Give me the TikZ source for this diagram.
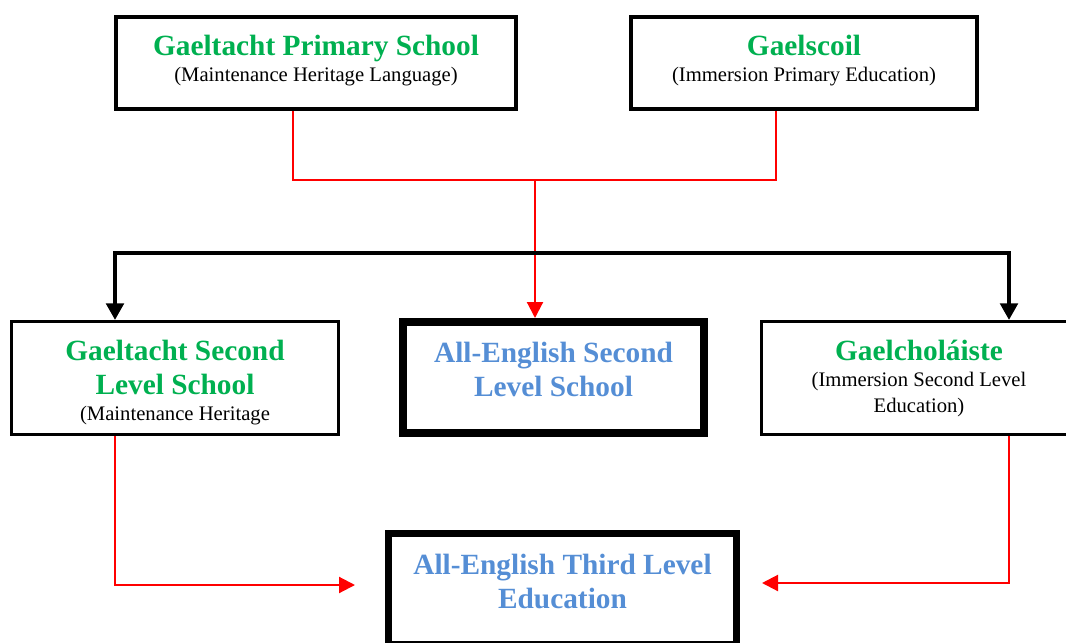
\documentclass[tikz,border=0pt]{standalone}
\usepackage{fontspec}
\setmainfont{Liberation Serif}
\usetikzlibrary{arrows.meta}
\definecolor{ttlgreen}{RGB}{0,176,80}
\definecolor{ttlblue}{RGB}{85,142,213}
\definecolor{linkred}{RGB}{255,0,0}
\newcommand{\boxtext}[3]{\parbox[c][#2][t]{#1}{\centering #3}}
\newcommand{\schooltitle}[3][29pt]{{\fontsize{22}{25.5}\selectfont\bfseries\leavevmode\color{#2}\rule{0pt}{#1}#3\par}}
\newcommand{\schoolnote}[1]{{\fontsize{15.5}{19.5}\selectfont #1\par}}
\tikzset{
  school/.style={draw, rectangle, inner sep=0pt, line width=#1},
  redlink/.style={draw=linkred, line width=1.6pt},
  redarrow/.style={redlink, -{Triangle[width=12pt,length=12pt]}},
  bus/.style={line width=3.5pt, {Triangle[width=13pt,length=12.5pt]}-{Triangle[width=13pt,length=12.5pt]}}
}
\begin{document}
\begin{tikzpicture}[x=0.75pt,y=-0.75pt]
  \useasboundingbox (0,0) rectangle (1066,642);
  \clip (0,0) rectangle (1066,642); %page edge cuts the right and bottom boxes
      %Primary level
  \node[school=3pt] (prim) at (316,63) {\boxtext{300pt}{69pt}{\schooltitle{ttlgreen}{Gaeltacht Primary School}\schoolnote{(Maintenance Heritage Language)}}};
  \node[school=3pt] (gaelscoil) at (804,63) {\boxtext{259.5pt}{69pt}{\schooltitle{ttlgreen}{Gaelscoil}\schoolnote{(Immersion Primary Education)}}};
      %Second level
  \node[school=2.25pt] (gsec) at (175,378) {\boxtext{245.25pt}{84.75pt}{\schooltitle{ttlgreen}{Gaeltacht Second\\Level School}\schoolnote{(Maintenance Heritage}}};
  \node[school=6pt] (eng2) at (553.5,377.5) {\boxtext{225.75pt}{83.25pt}{\schooltitle[30.5pt]{ttlblue}{All-English Second\\Level School}}};
  \node[school=2.25pt] (gael2) at (919,378) {\boxtext{236.25pt}{84.75pt}{\schooltitle{ttlgreen}{Gaelcholáiste}\schoolnote{(Immersion Second Level\\Education)}}};
      %Third level
  \node[school=5.25pt] (eng3) at (562.5,589) {\boxtext{261pt}{83.25pt}{\schooltitle[31pt]{ttlblue}{All-English Third Level\\Education}}};
      %Junction points
  \coordinate (jL) at (293,180);
  \coordinate (jM) at (535,180);
  \coordinate (jR) at (776,180);
  \coordinate (busL) at (115,253);
  \coordinate (busR) at (1009,253);
  \coordinate (tipL) at (355,585);
  \coordinate (tipR) at (762,583);
      %Connectors
  \draw[redlink] (prim.south -| jL) -- (jL) -- (jR) -- (gaelscoil.south -| jR); %primary schools joined
  \draw[redarrow] (jM) -- (jM |- eng2.north); %into all-English second level
  \draw[bus] (gsec.north -| busL) -- (busL) -- (busR) -- (gael2.north -| busR); %black bar
  \draw[redarrow] (gsec.south -| busL) |- (tipL); %left to third level
  \draw[redarrow] (gael2.south -| busR) |- (tipR); %right to third level
\end{tikzpicture}
\end{document}
